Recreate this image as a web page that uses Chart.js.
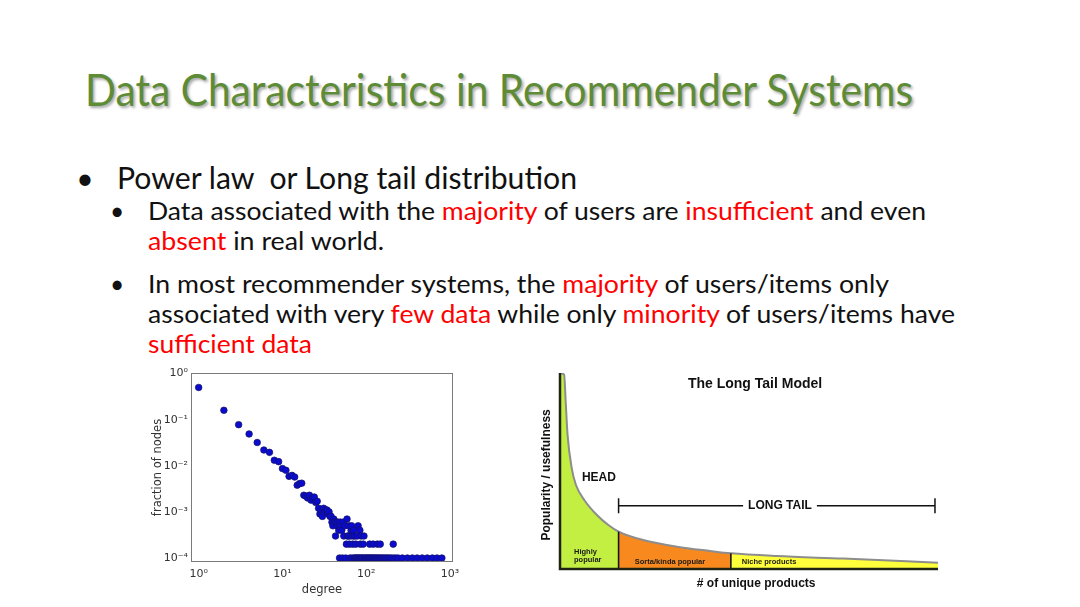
<!DOCTYPE html>
<html>
<head>
<meta charset="utf-8">
<title>Data Characteristics in Recommender Systems</title>
<script src="https://cdn.jsdelivr.net/npm/chart.js@4.4.0/dist/chart.umd.min.js"></script>
<style>
html, body { margin: 0; padding: 0; background: #fff; }
#slide { position: relative; width: 1080px; height: 607px; overflow: hidden; background: #fff; font-family: Lato, 'Open Sans', sans-serif; }
.ln { position: absolute; white-space: nowrap; line-height: 1; transform-origin: 0 0; color: #111; }
.r { color: #ff0000; }
#title { color: #5d8b36; font-size: 44px; text-shadow: 2px 2px 3px rgba(0,0,0,0.35); }
.l1 { font-size: 30px; }
.l2 { font-size: 24.5px; }
canvas { position: absolute; }
</style>
</head>
<body>
<div id="slide">
    <div class="ln" id="title" style="left:85px" data-b="106" data-w="828">Data Characteristics in Recommender Systems</div>

    <div class="ln l1" data-cx="85" data-b="189">•</div>
    <div class="ln l1" style="left:117px" data-b="189" data-w="460">Power law&nbsp; or Long tail distribution</div>

    <div class="ln l2" data-cx="117" data-b="220">•</div>
    <div class="ln l2" style="left:148px" data-b="220" data-w="778">Data associated with the <span class="r">majority</span> of users are <span class="r">insufficient</span> and even</div>
    <div class="ln l2" style="left:148px" data-b="250" data-w="236"><span class="r">absent</span> in real world.</div>

    <div class="ln l2" data-cx="117" data-b="293">•</div>
    <div class="ln l2" style="left:148px" data-b="293" data-w="741">In most recommender systems, the <span class="r">majority</span> of users/items only</div>
    <div class="ln l2" style="left:148px" data-b="323" data-w="807">associated with very <span class="r">few data</span> while only <span class="r">minority</span> of users/items have</div>
    <div class="ln l2" style="left:148px" data-b="353" data-w="164"><span class="r">sufficient data</span></div>

    <canvas id="degreeChart" width="330" height="238" style="left:140px; top:362px"></canvas>
    <canvas id="longTailChart" width="440" height="240" style="left:520px; top:360px"></canvas>
</div>

<script>
// Rozkład stopni (wykres log-log)
const degree = [
    1, 2, 3, 4, 5, 6, 7, 8, 9, 10, 11, 12, 13, 14, 15, 16, 17, 18, 19, 20,
    21, 22, 23, 24, 25, 26, 27, 28, 29, 30, 31, 32, 33, 34, 35, 36, 37, 38, 39, 40,
    41, 42, 43, 44, 45, 46, 47, 48, 49, 50, 51, 53, 54, 56, 58, 59, 60, 61, 62, 63,
    65, 66, 67, 69, 70, 71, 73, 75, 78, 80, 84, 85, 87, 92, 94, 110, 121, 136, 147, 210,
    48, 52, 57, 64, 68, 72, 74, 76, 79, 81, 83, 86, 89, 91, 95, 98, 101, 104, 107, 111,
    114, 117, 121, 125, 129, 133, 138, 143, 148, 154, 160, 167, 174, 182, 190, 200, 212, 225, 240, 270,
    310, 355, 405, 465, 535, 615, 700, 800
];
const fraction = [
    0.5, 0.16, 0.078, 0.049, 0.032, 0.022, 0.0196, 0.0132, 0.0123, 0.0087, 0.008, 0.0059, 0.0062, 0.0057, 0.0038, 0.0041, 0.0042, 0.0023, 0.0022, 0.002,
    0.0023, 0.0018, 0.002, 0.0021, 0.0016, 0.0017, 0.0012, 0.0009, 0.0011, 0.0008, 0.0012, 0.001, 0.0011, 0.0011, 0.0009, 0.001, 0.0008, 0.0008, 0.0006, 0.0005,
    0.0007, 0.0006, 0.0003, 0.0006, 0.0005, 0.0006, 0.0004, 0.0005, 0.0006, 0.0005, 0.0004, 0.0006, 0.0003, 0.0005, 0.0002, 0.0007, 0.0003, 0.0003, 0.0005, 0.0002,
    0.0003, 0.0004, 0.0005, 0.0002, 0.0003, 0.0004, 0.0003, 0.0002, 0.0003, 0.0005, 0.0004, 0.0002, 0.0003, 0.0002, 0.0003, 0.0002, 0.0002, 0.0002, 0.0002, 0.0002,
    0.0001, 0.0001, 0.0001, 0.0001, 0.0001, 0.0001, 0.0001, 0.0001, 0.0001, 0.0001, 0.0001, 0.0001, 0.0001, 0.0001, 0.0001, 0.0001, 0.0001, 0.0001, 0.0001, 0.0001,
    0.0001, 0.0001, 0.0001, 0.0001, 0.0001, 0.0001, 0.0001, 0.0001, 0.0001, 0.0001, 0.0001, 0.0001, 0.0001, 0.0001, 0.0001, 0.0001, 0.0001, 0.0001, 0.0001, 0.0001,
    0.0001, 0.0001, 0.0001, 0.0001, 0.0001, 0.0001, 0.0001, 0.0001
];
const xTickValues = [1, 10, 100, 1000];
const xTickLabels = ['10⁰', '10¹', '10²', '10³'];
const yTickValues = [0.0001, 0.001, 0.01, 0.1, 1];
const yTickLabels = ['10⁻⁴', '10⁻³', '10⁻²', '10⁻¹', '10⁰'];

// Model długiego ogona
const productShare = [0, 1.1, 1.5, 2.0, 3.1, 4.2, 6.6, 9.7, 12.7, 15.5, 22, 30.9, 39.7, 45.2, 57.3, 74.9, 100];
const popularity = [100, 99.1, 85.7, 68.5, 51.5, 43, 34.7, 27.7, 22.6, 19.1, 14.8, 11.4, 9.2, 8.0, 6.6, 5.3, 3.2];
const bandNames = ['Highly popular', 'Sorta/kinda popular', 'Niche products'];
const bandEdges = [15.5, 45.2];
const bandColors = ['#c2ef42', '#f7891e', '#ffff3c'];

// Ramka wokół wykresu (jak w matplotlib)
const framePlugin = {
    id: 'frame',
    afterDatasetsDraw(chart) {
        const { ctx, chartArea: a } = chart;
        ctx.save();
        ctx.strokeStyle = '#7a7a7a';
        ctx.lineWidth = 1;
        ctx.strokeRect(a.left + 0.5, a.top + 0.5, a.width - 1, a.height - 1);
        ctx.restore();
    }
};

// Osie, podziały i podpisy modelu długiego ogona
const longTailPlugin = {
    id: 'longTailDecor',
    afterDatasetsDraw(chart) {
        const { ctx, chartArea: a, scales: { x, y } } = chart;
        const pts = chart.getDatasetMeta(0).data;
        const y0 = y.getPixelForValue(0);
        ctx.save();

        // linie podziału pasm
        ctx.strokeStyle = '#151515';
        ctx.lineWidth = 1.6;
        bandEdges.forEach(edge => {
            const i = productShare.indexOf(edge);
            ctx.beginPath();
            ctx.moveTo(pts[i].x, pts[i].y);
            ctx.lineTo(pts[i].x, y0);
            ctx.stroke();
        });

        // osie
        ctx.strokeStyle = '#1d2414';
        ctx.lineWidth = 2.5;
        ctx.beginPath();
        ctx.moveTo(a.left, a.top);
        ctx.lineTo(a.left, a.bottom);
        ctx.lineTo(a.right, a.bottom);
        ctx.stroke();

        ctx.fillStyle = '#111';
        ctx.textAlign = 'center';
        ctx.textBaseline = 'middle';

        ctx.font = 'bold 14px "Liberation Sans", Arial, sans-serif';
        ctx.fillText('The Long Tail Model', x.getPixelForValue(51.6), y.getPixelForValue(94.4));

        ctx.font = 'bold 12px "Liberation Sans", Arial, sans-serif';
        ctx.fillText('HEAD', x.getPixelForValue(10.3), y.getPixelForValue(46.4));

        // LONG TAIL z klamrą
        const ly = y.getPixelForValue(32.3);
        const lx0 = x.getPixelForValue(bandEdges[0]);
        const lx1 = x.getPixelForValue(99.2);
        const tx = x.getPixelForValue(58.2);
        const half = ctx.measureText('LONG TAIL').width / 2 + 5;
        ctx.fillText('LONG TAIL', tx, ly);
        ctx.strokeStyle = '#111';
        ctx.lineWidth = 1.5;
        ctx.beginPath();
        ctx.moveTo(lx0, ly); ctx.lineTo(tx - half, ly);
        ctx.moveTo(tx + half, ly); ctx.lineTo(lx1, ly);
        ctx.moveTo(lx0, ly - 7.5); ctx.lineTo(lx0, ly + 7.5);
        ctx.moveTo(lx1, ly - 7.5); ctx.lineTo(lx1, ly + 7.5);
        ctx.stroke();

        // nazwy pasm
        ctx.font = 'bold 7.5px "Liberation Sans", Arial, sans-serif';
        ctx.fillStyle = '#1a1a1a';
        ctx.textAlign = 'left';
        const hp = bandNames[0].split(' ');
        ctx.fillText(hp[0], x.getPixelForValue(3.7), y.getPixelForValue(8.8));
        ctx.fillText(hp[1], x.getPixelForValue(3.7), y.getPixelForValue(4.6));
        ctx.textAlign = 'center';
        ctx.fillText(bandNames[1], x.getPixelForValue(29.1), y.getPixelForValue(3.7));
        ctx.fillText(bandNames[2], x.getPixelForValue(55.3), y.getPixelForValue(3.4));

        // tytuły osi
        ctx.fillStyle = '#111';
        ctx.font = 'bold 12px "Liberation Sans", Arial, sans-serif';
        ctx.fillText('# of unique products', x.getPixelForValue(51.9), a.bottom + 14.5);
        ctx.translate(a.left - 13, y.getPixelForValue(48));
        ctx.rotate(-Math.PI / 2);
        ctx.fillText('Popularity / usefulness', 0, 0);

        ctx.restore();
    }
};

function bandColor(xValue) {
    if (xValue < bandEdges[0]) return bandColors[0];
    if (xValue < bandEdges[1]) return bandColors[1];
    return bandColors[2];
}

// Rozmieszczenie tekstu slajdu według linii bazowej
function layoutText() {
    document.querySelectorAll('.ln').forEach(el => {
        const probe = document.createElement('span');
        probe.style.cssText = 'display:inline-block;width:0;height:0;vertical-align:baseline;';
        el.appendChild(probe);
        const box = el.getBoundingClientRect();
        const base = probe.getBoundingClientRect().bottom - box.top;
        el.removeChild(probe);
        el.style.top = (parseFloat(el.dataset.b) - base) + 'px';
        if (el.dataset.cx) el.style.left = (parseFloat(el.dataset.cx) - box.width / 2) + 'px';
        if (el.dataset.w) el.style.transform = 'scaleX(' + (parseFloat(el.dataset.w) / box.width).toFixed(4) + ')';
    });
}

function initCharts() {
    const tickFont = { family: '"DejaVu Sans", sans-serif', size: 11 };
    const titleFont = { family: '"DejaVu Sans", sans-serif', size: 11.5 };

    new Chart(document.getElementById('degreeChart').getContext('2d'), {
        type: 'scatter',
        data: {
            datasets: [{
                label: 'fraction of nodes',
                data: degree.map((d, i) => ({ x: d, y: fraction[i] })),
                backgroundColor: '#0b0bcf',
                borderColor: '#121263',
                borderWidth: 0.7,
                pointRadius: 3.3
            }]
        },
        options: {
            responsive: false,
            animation: false,
            layout: { padding: { top: 11, right: 17, left: 0, bottom: 0 } },
            plugins: { legend: { display: false }, tooltip: { enabled: false } },
            scales: {
                x: {
                    type: 'logarithmic',
                    min: 0.81,
                    max: 1086,
                    grid: { display: false, drawTicks: false },
                    border: { display: false },
                    afterBuildTicks: s => { s.ticks = xTickValues.map(v => ({ value: v })); },
                    afterFit: s => { s.height = 38; },
                    ticks: {
                        autoSkip: false, maxRotation: 0, padding: 6, color: '#333', font: tickFont,
                        callback: v => xTickLabels[xTickValues.indexOf(v)]
                    },
                    title: { display: true, text: 'degree', color: '#333', font: titleFont, padding: { top: 0, bottom: 3 } }
                },
                y: {
                    type: 'logarithmic',
                    min: 0.000082,
                    max: 1.03,
                    grid: { display: false, drawTicks: false },
                    border: { display: false },
                    afterBuildTicks: s => { s.ticks = yTickValues.map(v => ({ value: v })); },
                    afterFit: s => { s.width = 51; },
                    ticks: {
                        autoSkip: false, padding: 3, color: '#333', font: tickFont,
                        callback: v => yTickLabels[yTickValues.indexOf(v)]
                    },
                    title: { display: true, text: 'fraction of nodes', color: '#333', font: titleFont, padding: { top: 11, bottom: 0 } }
                }
            }
        },
        plugins: [framePlugin]
    });

    new Chart(document.getElementById('longTailChart').getContext('2d'), {
        type: 'line',
        data: {
            datasets: [{
                label: 'Popularity / usefulness',
                data: productShare.map((v, i) => ({ x: v, y: popularity[i] })),
                borderColor: '#8d8d8d',
                borderWidth: 2,
                backgroundColor: bandColors[0],
                fill: 'origin',
                pointRadius: 0,
                cubicInterpolationMode: 'monotone',
                segment: { backgroundColor: c => bandColor(c.p0.parsed.x) }
            }]
        },
        options: {
            responsive: false,
            animation: false,
            layout: { padding: { top: 13, right: 22, left: 40, bottom: 31 } },
            plugins: { legend: { display: false }, tooltip: { enabled: false } },
            scales: {
                x: { type: 'linear', min: 0, max: 100, display: false },
                y: { type: 'linear', min: 0, max: 100, display: false }
            }
        },
        plugins: [longTailPlugin]
    });
}

layoutText();
initCharts();
</script>
</body>
</html>
